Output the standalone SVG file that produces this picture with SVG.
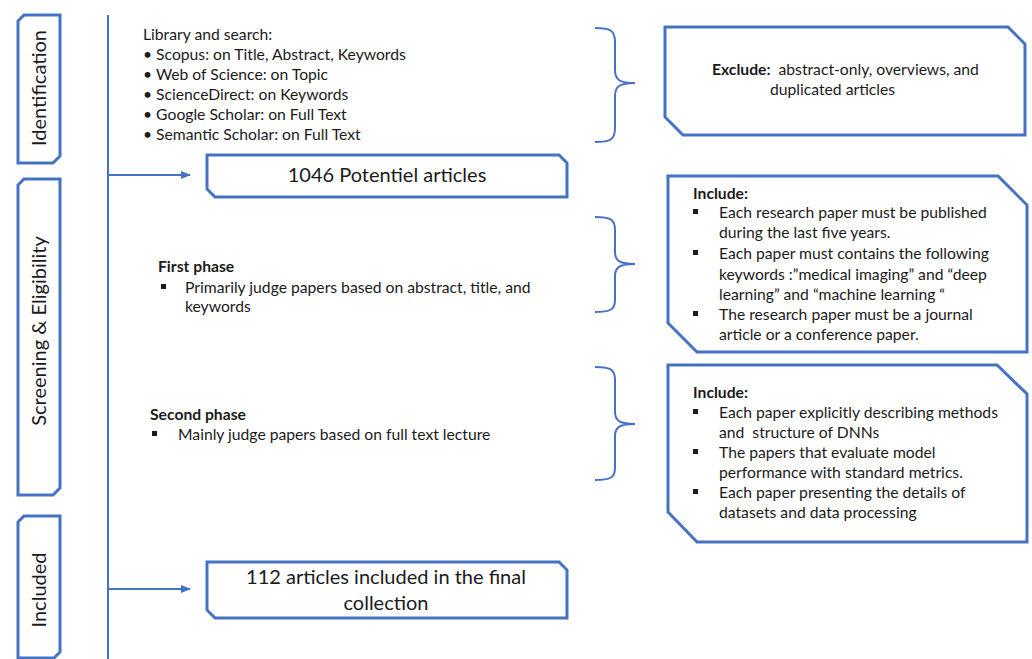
<svg xmlns="http://www.w3.org/2000/svg" width="1032" height="659" viewBox="0 0 1032 659">
<style>
.box{fill:#fff;stroke:#4472C4;stroke-width:3;stroke-linejoin:miter}
.brace{fill:none;stroke:#4472C4;stroke-width:2}
.conn{fill:none;stroke:#4472C4;stroke-width:2}
text{font-family:Lato,"Open Sans",sans-serif;fill:#1a1a1a;white-space:pre}
.side{font-size:20px}
.big{font-size:20px}
.body{font-size:15.7px}
.b{font-weight:bold}
.sq{fill:#1a1a1a}
</style>
<defs>
<marker id="arr" viewBox="0 0 10 10" refX="9" refY="5" markerWidth="5" markerHeight="5" orient="auto" markerUnits="strokeWidth">
<path d="M0,1 L10,5 L0,9 Z" fill="#4472C4"/>
</marker>
</defs>
<rect width="1032" height="659" fill="#fff"/>

<g id="stage-identification">
<path class="box" d="M24,15 H60 V156 L53,163 H18 V21 Z"/>
<text class="side" transform="translate(46,88) rotate(-90)" text-anchor="middle">Identification</text>
</g>
<g id="stage-screening">
<path class="box" d="M24,179 H60 V488 L53,495 H18 V185 Z"/>
<text class="side" transform="translate(46,331) rotate(-90)" text-anchor="middle">Screening &amp; Eligibility</text>
</g>
<g id="stage-included">
<path class="box" d="M24,516 H60 V652 L54,658 H18 V522 Z"/>
<text class="side" transform="translate(46,590) rotate(-90)" text-anchor="middle">Included</text>
</g>

<g id="connectors">
<line class="conn" x1="108" y1="15" x2="108" y2="659"/>
<line class="conn" x1="108" y1="175" x2="190" y2="175" marker-end="url(#arr)"/>
<line class="conn" x1="108" y1="589" x2="190" y2="589" marker-end="url(#arr)"/>
<path class="brace" d="M595,28 C610,28 615,30 615,42 V70 C615,80 620,83 635,83 C620,83 615,86 615,96 V128 C615,140 610,142 595,142"/>
<path class="brace" d="M595,217 C610,217 615,219 615,230 V252 C615,261 620,264 635,264 C620,264 615,267 615,276 V300 C615,310 610,312 595,312"/>
<path class="brace" d="M595,367 C610,367 615,369 615,380 V412 C615,421 620,424 635,424 C620,424 615,427 615,436 V468 C615,478 610,480 595,480"/>
</g>

<g id="search">
<text class="body" x="143" y="40">Library and search:</text>
<text class="body" x="143" y="60">• Scopus: on Title, Abstract, Keywords</text>
<text class="body" x="143" y="80">• Web of Science: on Topic</text>
<text class="body" x="143" y="100">• ScienceDirect: on Keywords</text>
<text class="body" x="143" y="120">• Google Scholar: on Full Text</text>
<text class="body" x="143" y="140">• Semantic Scholar: on Full Text</text>
</g>

<g id="potential">
<path class="box" d="M207,155 H559 L567,163 V197 H215 L207,189 Z"/>
<text class="big" x="387" y="182" text-anchor="middle">1046 Potentiel articles</text>
</g>

<g id="exclude">
<path class="box" d="M665,27 H1008 L1025,44 V135 H683 L665,117 Z"/>
<text class="body" x="712" y="75"><tspan class="b">Exclude:</tspan>  abstract-only, overviews, and</text>
<text class="body" x="770" y="95">duplicated articles</text>
</g>

<g id="first-phase">
<text class="body b" x="158" y="272">First phase</text>
<rect class="sq" x="161" y="284" width="5" height="5"/>
<text class="body" x="185" y="293">Primarily judge papers based on abstract, title, and</text>
<text class="body" x="185" y="312">keywords</text>
</g>

<g id="include-1">
<path class="box" d="M668,176 H998 L1027,205 V352 H697 L668,323 Z"/>
<text class="body b" x="693" y="199">Include:</text>
<rect class="sq" x="693" y="209" width="5" height="5"/>
<text class="body" x="719" y="218">Each research paper must be published</text>
<text class="body" x="719" y="238">during the last five years.</text>
<rect class="sq" x="693" y="250" width="5" height="5"/>
<text class="body" x="719" y="259">Each paper must contains the following</text>
<text class="body" x="719" y="280">keywords :”medical imaging” and “deep</text>
<text class="body" x="719" y="300">learning” and “machine learning “</text>
<rect class="sq" x="693" y="311" width="5" height="5"/>
<text class="body" x="719" y="320">The research paper must be a journal</text>
<text class="body" x="719" y="340">article or a conference paper.</text>
</g>

<g id="second-phase">
<text class="body b" x="150" y="420">Second phase</text>
<rect class="sq" x="152" y="431" width="5" height="5"/>
<text class="body" x="178" y="440">Mainly judge papers based on full text lecture</text>
</g>

<g id="include-2">
<path class="box" d="M668,365 H997 L1027,394 V542 H697 L668,512 Z"/>
<text class="body b" x="693" y="398">Include:</text>
<rect class="sq" x="693" y="409" width="5" height="5"/>
<text class="body" x="719" y="418">Each paper explicitly describing methods</text>
<text class="body" x="719" y="438">and  structure of DNNs</text>
<rect class="sq" x="693" y="449" width="5" height="5"/>
<text class="body" x="719" y="458">The papers that evaluate model</text>
<text class="body" x="719" y="478">performance with standard metrics.</text>
<rect class="sq" x="693" y="489" width="5" height="5"/>
<text class="body" x="719" y="498">Each paper presenting the details of</text>
<text class="body" x="719" y="518">datasets and data processing</text>
</g>

<g id="final">
<path class="box" d="M207,562 H559 L567,570 V618 H215 L207,610 Z"/>
<text class="big" x="386" y="584" text-anchor="middle">112 articles included in the final</text>
<text class="big" x="386" y="610" text-anchor="middle">collection</text>
</g>
</svg>
